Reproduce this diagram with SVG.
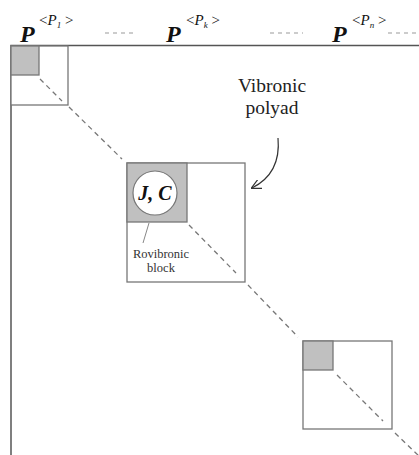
<svg xmlns="http://www.w3.org/2000/svg" width="419" height="455" viewBox="0 0 419 455">
<defs>
<style>
.frame{fill:none;stroke:#555;stroke-width:1.5}
.box{fill:#fff;stroke:#777;stroke-width:1.3}
.shade{fill:#c0c0c0;stroke:#777;stroke-width:1.3}
.dash{fill:none;stroke:#777;stroke-width:1.3;stroke-dasharray:5,4}
.hd{fill:none;stroke:#999;stroke-width:1.2;stroke-dasharray:4,4}
.bigP{font-family:"Liberation Serif",serif;font-size:24px;font-weight:bold;font-style:italic;fill:#111}
.sup{font-family:"Liberation Serif",serif;font-size:15px;fill:#111}
.lbl{font-family:"Liberation Serif",serif;font-size:19.5px;fill:#222;text-anchor:middle}
.small{font-family:"Liberation Serif",serif;font-size:12.5px;fill:#333;text-anchor:middle}
</style>
<marker id="arr" viewBox="0 0 10 10" refX="9" refY="5" markerWidth="10" markerHeight="10" orient="auto" markerUnits="userSpaceOnUse">
<path d="M0,0 L10,5 L0,10" fill="none" stroke="#333" stroke-width="1.2"/>
</marker>
</defs>
<rect width="419" height="455" fill="#fff"/>
<g id="header">
<text class="bigP" x="20" y="42">P</text>
<text class="sup" x="39" y="25">&lt;<tspan font-style="italic">P</tspan><tspan font-size="9" dy="3" font-style="italic">1</tspan><tspan dy="-3"> &gt;</tspan></text>
<line class="hd" x1="105" y1="33" x2="136" y2="33"/>
<text class="bigP" x="166" y="42">P</text>
<text class="sup" x="186" y="25">&lt;<tspan font-style="italic">P</tspan><tspan font-size="9" dy="3" font-style="italic">k</tspan><tspan dy="-3"> &gt;</tspan></text>
<line class="hd" x1="270" y1="33" x2="303" y2="33"/>
<text class="bigP" x="332" y="42">P</text>
<text class="sup" x="352" y="25">&lt;<tspan font-style="italic">P</tspan><tspan font-size="9" dy="3" font-style="italic">n</tspan><tspan dy="-3"> &gt;</tspan></text>
<line class="hd" x1="388" y1="33" x2="419" y2="33"/>
</g>
<g id="frame">
<path class="frame" d="M11,455 V45.5 H419"/>
</g>
<g id="block1">
<rect class="box" x="11" y="46" width="57" height="59"/>
<rect class="shade" x="11" y="46" width="28" height="29"/>
</g>
<g id="block2">
<rect class="box" x="127" y="163" width="118" height="119"/>
<rect class="shade" x="127" y="163" width="60" height="59"/>
<circle cx="155" cy="193" r="22" fill="#fff" stroke="#777" stroke-width="1.2"/>
<text x="155" y="200" text-anchor="middle" font-family="Liberation Serif,serif" font-size="20" font-weight="bold" font-style="italic" fill="#111">J, C</text>
<line x1="149" y1="223" x2="143" y2="243" stroke="#888" stroke-width="1"/>
<text class="small" x="161" y="258">Rovibronic</text>
<text class="small" x="161" y="272">block</text>
</g>
<g id="block3">
<rect class="box" x="303" y="341" width="89" height="88"/>
<rect class="shade" x="303" y="341" width="30" height="29"/>
</g>
<g id="polyad-label">
<text class="lbl" x="272" y="92">Vibronic</text>
<text class="lbl" x="272" y="114">polyad</text>
</g>
<g id="connectors">
<line class="dash" x1="40" y1="79" x2="62" y2="101"/>
<line class="dash" x1="69" y1="107" x2="122" y2="159"/>
<line class="dash" x1="189" y1="225" x2="236" y2="273"/>
<line class="dash" x1="248" y1="285" x2="298" y2="337"/>
<line class="dash" x1="337" y1="375" x2="383" y2="421"/>
<line class="dash" x1="395" y1="433" x2="419" y2="456"/>
<path d="M278,138 C280,160 272,178 252,188" fill="none" stroke="#333" stroke-width="1.2" marker-end="url(#arr)"/>
</g>
</svg>
